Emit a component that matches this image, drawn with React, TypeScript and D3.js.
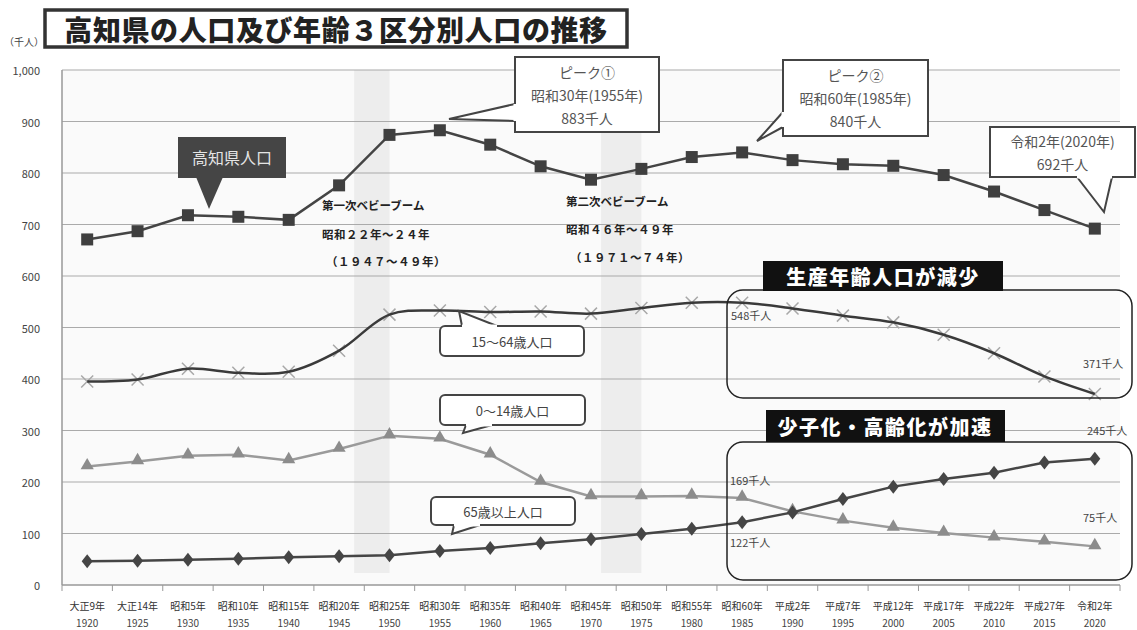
import React from "react";
import * as d3 from "d3";

const years = [1920, 1925, 1930, 1935, 1940, 1945, 1950, 1955, 1960, 1965, 1970, 1975, 1980, 1985, 1990, 1995, 2000, 2005, 2010, 2015, 2020];
const eraLabels = ["大正9年", "大正14年", "昭和5年", "昭和10年", "昭和15年", "昭和20年", "昭和25年", "昭和30年", "昭和35年", "昭和40年", "昭和45年", "昭和50年", "昭和55年", "昭和60年", "平成2年", "平成7年", "平成12年", "平成17年", "平成22年", "平成27年", "令和2年"];
const totalPop = [671, 687, 718, 715, 709, 776, 874, 883, 855, 813, 787, 808, 831, 840, 825, 817, 814, 796, 764, 728, 692];
const workingPop = [395, 399, 420, 412, 414, 455, 525, 533, 530, 531, 527, 538, 548, 548, 537, 523, 510, 486, 450, 405, 371];
const youngPop = [230, 240, 251, 253, 242, 264, 290, 284, 253, 200, 172, 172, 173, 169, 143, 125, 111, 101, 92, 84, 75];
const elderlyPop = [46, 47, 49, 51, 54, 56, 58, 66, 72, 81, 89, 99, 109, 122, 141, 167, 191, 206, 218, 238, 245];
const yTicks = [0, 100, 200, 300, 400, 500, 600, 700, 800, 900, 1000];
const babyBooms = [[1946.5, 1950], [1971, 1975]];

const JP = "'Liberation Sans Narrow', 'Noto Sans CJK JP', sans-serif";
const JPB = "'Noto Sans CJK JP', sans-serif";

const L = 62, R = 1120, T = 70, B = 585;

type Tail = { b1: [number, number]; b2: [number, number]; tip: [number, number] };

function Callout(props: { x: number; y: number; w: number; h: number; rx?: number; tail: Tail; lines: string[]; size?: number; lh?: number; color?: string }) {
  const { x, y, w, h, rx = 0, tail, lines, size = 14, lh = 23, color = "#555" } = props;
  const cy = y + h / 2 - ((lines.length - 1) * lh) / 2;
  return (
    <g>
      <rect x={x} y={y} width={w} height={h} rx={rx} fill="#fff" stroke="#444" strokeWidth={2} />
      <path d={`M${tail.b1[0]},${tail.b1[1]}L${tail.tip[0]},${tail.tip[1]}L${tail.b2[0]},${tail.b2[1]}`} fill="#fff" stroke="#444" strokeWidth={2} strokeLinejoin="miter" />
      <line x1={tail.b1[0]} y1={tail.b1[1]} x2={tail.b2[0]} y2={tail.b2[1]} stroke="#fff" strokeWidth={3} />
      {lines.map((t, i) => (
        <text key={i} x={x + w / 2} y={cy + i * lh} textAnchor="middle" dominantBaseline="central" fontSize={size} fill={color} fontFamily={JP}>{t}</text>
      ))}
    </g>
  );
}

export default function App() {
  const x = d3.scaleBand<string>().domain(years.map(String)).range([L, R]).padding(0);
  const cx = (yr: number) => (x(String(yr)) as number) + x.bandwidth() / 2;
  const xYear = d3.scaleLinear().domain([1920, 2020]).range([cx(1920), cx(2020)]);
  const y = d3.scaleLinear().domain([0, 1000]).range([B, T]);

  const pts = (vals: number[]) => vals.map((v, i) => [cx(years[i]), y(v)] as [number, number]);
  const straight = d3.line();
  const smooth = d3.line().curve(d3.curveCatmullRom.alpha(0.5));

  const totalPts = pts(totalPop);
  const workingPts = pts(workingPop);
  const youngPts = pts(youngPop);
  const elderlyPts = pts(elderlyPop);

  const tri = d3.symbol().type(d3.symbolTriangle).size(75)() as string;

  return (
    <svg width={1137} height={630} style={{ position: "absolute", left: 0, top: 0, background: "#fff" }}>
      {/* title */}
      <rect x={45} y={10} width={582} height={37} fill="#fff" stroke="#333" strokeWidth={3.5} />
      <text x={336} y={29} textAnchor="middle" dominantBaseline="central" fontSize={28} fontWeight={900} fill="#222" fontFamily={JPB} letterSpacing={0.6}>高知県の人口及び年齢３区分別人口の推移</text>
      <text x={24} y={46} textAnchor="middle" fontSize={10} fill="#444" fontFamily={JP}>（千人）</text>

      {/* plot area */}
      <rect x={L} y={T} width={R - L} height={B - T} fill="#fafafa" />
      {babyBooms.map(([a, b], i) => (
        <rect key={i} x={xYear(a)} y={T} width={xYear(b) - xYear(a)} height={B - T - 12} fill="#ededed" />
      ))}
      {yTicks.map((t) => (
        <g key={t}>
          {t > 0 && <line x1={L} x2={R} y1={y(t)} y2={y(t)} stroke="#aaa" strokeWidth={1.2} />}
          <text x={40} y={y(t)} textAnchor="end" dominantBaseline="central" fontSize={11} fill="#444" fontFamily={JP}>{d3.format(",")(t)}</text>
        </g>
      ))}
      <line x1={L} x2={L} y1={T} y2={B} stroke="#999" strokeWidth={1.5} />
      <line x1={L} x2={R} y1={B} y2={B} stroke="#999" strokeWidth={1.5} />
      {years.map((yr, i) => (
        <g key={yr}>
          <line x1={x(String(yr)) as number} x2={x(String(yr)) as number} y1={B} y2={B + 6} stroke="#999" />
          <text x={cx(yr)} y={605} textAnchor="middle" dominantBaseline="central" fontSize={10} fill="#333" fontFamily={JP}>{eraLabels[i]}</text>
          <text x={cx(yr)} y={622} textAnchor="middle" dominantBaseline="central" fontSize={10} fill="#444" fontFamily={JP}>{yr}</text>
        </g>
      ))}
      <line x1={R} x2={R} y1={B} y2={B + 6} stroke="#999" />

      {/* baby boom notes */}
      <g fontFamily={JPB} fontWeight={700} fontSize={11.5} fill="#222">
        <text x={322} y={205} dominantBaseline="central">第一次ベビーブーム</text>
        <text x={322} y={234} dominantBaseline="central" letterSpacing={0.5}>昭和２２年～２４年</text>
        <text x={326} y={261} dominantBaseline="central" letterSpacing={0.5}>（１９４７～４９年）</text>
        <text x={566} y={201} dominantBaseline="central">第二次ベビーブーム</text>
        <text x={566} y={229} dominantBaseline="central" letterSpacing={0.5}>昭和４６年～４９年</text>
        <text x={570} y={257} dominantBaseline="central" letterSpacing={0.5}>（１９７１～７４年）</text>
      </g>

      {/* series */}
      <path d={straight(youngPts) as string} fill="none" stroke="#9a9a9a" strokeWidth={2.5} />
      {youngPts.map(([px, py], i) => (
        <path key={i} d={tri} transform={`translate(${px},${py - 1})`} fill="#8c8c8c" />
      ))}
      <path d={straight(elderlyPts) as string} fill="none" stroke="#454545" strokeWidth={2.5} />
      {elderlyPts.map(([px, py], i) => (
        <path key={i} d={`M${px},${py - 7}L${px + 5.5},${py}L${px},${py + 7}L${px - 5.5},${py}Z`} fill="#454545" />
      ))}
      {workingPts.map(([px, py], i) => (
        <path key={i} d={`M${px - 6},${py - 6}L${px + 6},${py + 6}M${px - 6},${py + 6}L${px + 6},${py - 6}`} stroke="#a8a8a8" strokeWidth={1.5} />
      ))}
      <path d={smooth(workingPts) as string} fill="none" stroke="#3a3a3a" strokeWidth={2.5} />
      <path d={straight(totalPts) as string} fill="none" stroke="#444" strokeWidth={2.5} />
      {totalPts.map(([px, py], i) => (
        <rect key={i} x={px - 6} y={py - 6} width={12} height={12} fill="#3f3f3f" />
      ))}

      {/* value labels */}
      <g fontFamily={JP} fontSize={11} fill="#444">
        <text x={731} y={315} dominantBaseline="central">548千人</text>
        <text x={1083} y={363} dominantBaseline="central">371千人</text>
        <text x={1087} y={430} dominantBaseline="central">245千人</text>
        <text x={730} y={480} dominantBaseline="central">169千人</text>
        <text x={1083} y={517} dominantBaseline="central">75千人</text>
        <text x={730} y={542} dominantBaseline="central">122千人</text>
      </g>

      {/* dark callout */}
      <path d="M196,177L209,209L223,177Z" fill="#454545" />
      <rect x={178} y={137} width={108} height={41} fill="#454545" />
      <text x={232} y={157} textAnchor="middle" dominantBaseline="central" fontSize={16} fill="#e4e4e4" fontFamily={JPB}>高知県人口</text>

      <Callout x={515} y={57} w={144} h={75} tail={{ b1: [515, 104], tip: [449, 119], b2: [515, 121] }} lines={["ピーク①", "昭和30年(1955年)", "883千人"]} />
      <Callout x={783} y={60} w={145} h={76} tail={{ b1: [783, 112], tip: [757, 141], b2: [783, 127] }} lines={["ピーク②", "昭和60年(1985年)", "840千人"]} />
      <Callout x={990} y={127} w={145} h={50} tail={{ b1: [1077, 177], tip: [1104, 212], b2: [1112, 177] }} lines={["令和2年(2020年)", "692千人"]} />
      <Callout x={440} y={326} w={144} h={30} rx={5} tail={{ b1: [462, 326], tip: [459, 311], b2: [497, 326] }} lines={["15～64歳人口"]} size={13} color="#444" />
      <Callout x={440} y={395} w={145} h={30} rx={5} tail={{ b1: [466, 425], tip: [463, 433], b2: [492, 425] }} lines={["0～14歳人口"]} size={13} color="#444" />
      <Callout x={431} y={497} w={144} h={28} rx={5} tail={{ b1: [454, 525], tip: [452, 534], b2: [480, 525] }} lines={["65歳以上人口"]} size={13} color="#444" />

      {/* highlight boxes */}
      <rect x={727} y={290} width={405} height={108} rx={16} fill="none" stroke="#222" strokeWidth={1.5} />
      <rect x={763} y={261} width={240} height={30} fill="#111" />
      <text x={883} y={276} textAnchor="middle" dominantBaseline="central" fontSize={20} fontWeight={900} fill="#fff" fontFamily={JPB} letterSpacing={1.5}>生産年齢人口が減少</text>
      <rect x={727} y={442} width={405} height={138} rx={16} fill="none" stroke="#222" strokeWidth={1.5} />
      <rect x={766} y={410} width={239} height={32} fill="#111" />
      <text x={885} y={426} textAnchor="middle" dominantBaseline="central" fontSize={20} fontWeight={900} fill="#fff" fontFamily={JPB} letterSpacing={1.5}>少子化・高齢化が加速</text>
    </svg>
  );
}
